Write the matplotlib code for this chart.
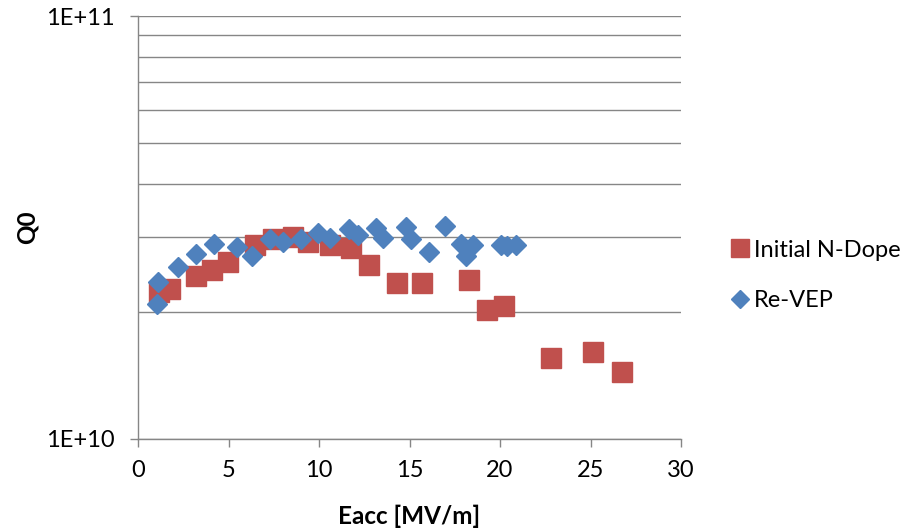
import matplotlib
matplotlib.use("Agg")
import matplotlib.pyplot as plt
from matplotlib.ticker import NullFormatter, FixedLocator

# Initial N-Dope measurement
ndope_eacc = [1.16, 1.77, 3.20, 4.09, 4.97, 6.46, 7.46, 8.56, 9.39, 10.61,
              11.77, 12.76, 14.31, 15.69, 18.29, 19.28, 20.22, 22.82, 25.14, 26.74]
ndope_q0 = [2.23e10, 2.26e10, 2.43e10, 2.51e10, 2.62e10, 2.88e10, 2.97e10, 3.00e10,
            2.92e10, 2.88e10, 2.83e10, 2.58e10, 2.34e10, 2.34e10, 2.38e10, 2.02e10,
            2.06e10, 1.55e10, 1.61e10, 1.44e10]

# Re-VEP measurement
revep_eacc = [1.05, 1.10, 2.21, 3.20, 4.20, 5.47, 6.30, 7.29, 8.01, 9.01, 9.94,
              10.61, 11.66, 12.15, 13.15, 13.54, 14.81, 15.08, 16.08, 16.96,
              17.85, 18.12, 18.51, 20.06, 20.39, 20.88]
revep_q0 = [2.08e10, 2.35e10, 2.55e10, 2.74e10, 2.89e10, 2.84e10, 2.71e10, 2.97e10,
            2.92e10, 2.97e10, 3.07e10, 2.99e10, 3.14e10, 3.04e10, 3.15e10, 2.99e10,
            3.17e10, 2.97e10, 2.77e10, 3.19e10, 2.89e10, 2.71e10, 2.87e10, 2.87e10,
            2.86e10, 2.87e10]

x_ticks = [0, 5, 10, 15, 20, 25, 30]
y_ticks = [1e10, 1e11]
y_tick_labels = ["1E+10", "1E+11"]

RED = "#C0504D"
BLUE = "#4F81BD"
GRID = "#868686"

plt.rcParams["font.family"] = ["Lato", "DejaVu Sans"]

fig = plt.figure(figsize=(9.08, 5.30), dpi=100)
ax = fig.add_axes([0.152, 0.1717, 0.598, 0.7981])

ax.plot(ndope_eacc, ndope_q0, linestyle="none", marker="s", markersize=14,
        color=RED, markeredgecolor=RED, label="Initial N-Dope", zorder=3)
ax.plot(revep_eacc, revep_q0, linestyle="none", marker="D", markersize=10.5,
        color=BLUE, markeredgecolor=BLUE, label="Re-VEP", zorder=4)

ax.set_yscale("log")
ax.set_xlim(0, 30)
ax.set_ylim(1e10, 1e11)
ax.set_xticks(x_ticks)
ax.set_yticks(y_ticks)
ax.set_yticklabels(y_tick_labels)
ax.yaxis.set_minor_locator(FixedLocator([k * 1e10 for k in range(2, 10)]))
ax.yaxis.set_minor_formatter(NullFormatter())

ax.grid(True, which="both", axis="y", color=GRID, linewidth=1.0)
ax.set_axisbelow(True)

for side in ("top", "right"):
    ax.spines[side].set_visible(False)
for side in ("left", "bottom"):
    ax.spines[side].set_color(GRID)
    ax.spines[side].set_linewidth(1.0)

ax.tick_params(axis="both", which="major", labelsize=17, color=GRID,
               length=6, width=1.0, direction="out", pad=9)
ax.tick_params(axis="y", which="major", pad=11)
ax.tick_params(axis="y", which="minor", length=0)

ax.set_xlabel("Eacc [MV/m]", fontsize=17.5, fontweight="bold", labelpad=17)
ax.set_ylabel("Q0", fontsize=17.5, fontweight="bold", labelpad=5)

ax.legend(loc="upper left", bbox_to_anchor=(0.79, 0.57), bbox_transform=fig.transFigure,
          frameon=False, fontsize=17, labelspacing=1.25, handletextpad=0.15,
          handlelength=0.9, borderpad=0, markerscale=0.9)

fig.savefig("out.png", dpi=100)
